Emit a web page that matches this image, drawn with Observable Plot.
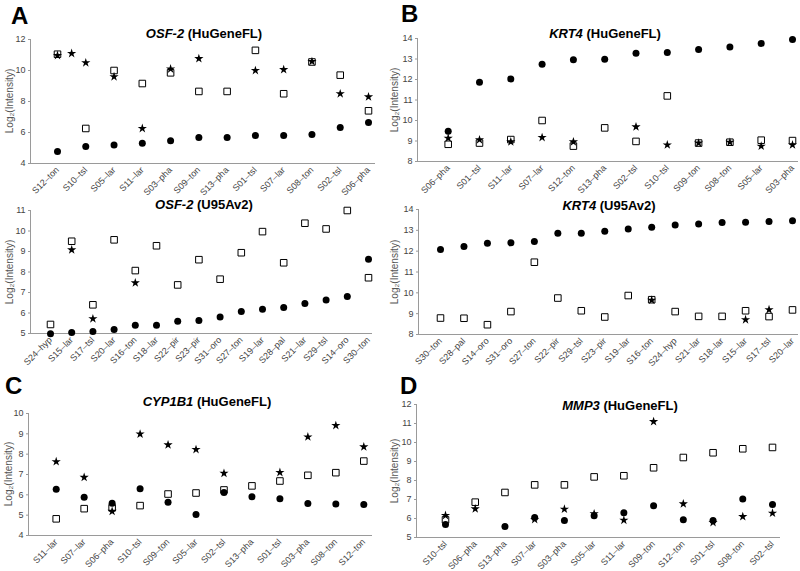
<!DOCTYPE html>
<html><head><meta charset="utf-8">
<script src="https://cdn.jsdelivr.net/npm/d3@7"></script>
<script src="https://cdn.jsdelivr.net/npm/@observablehq/plot@0.6"></script>
<style>
body{margin:0;background:#fff;font-family:"Liberation Sans",Arial,sans-serif;}
#root{position:relative;width:800px;height:571px;overflow:hidden;background:#fff;}
.letter{position:absolute;font-weight:bold;font-size:24px;line-height:1;color:#000;}
.title{position:absolute;font-weight:bold;font-size:13px;line-height:1;transform:translate(-50%,-50%);white-space:nowrap;color:#000;}
.ylab{position:absolute;font-size:10px;line-height:1;color:#555;white-space:nowrap;transform:translate(-50%,-50%) rotate(-90deg);}
.panel{position:absolute;}
</style></head><body><div id="root"></div>
<script>
// ---- Data ----
const osfHuCats = ["S12–ton","S10–tsl","S05–lar","S11–lar","S03–pha","S09–ton","S13–pha","S01–tsl","S07–lar","S08–ton","S02–tsl","S06–pha"];
const osfHuCircles = [4.77, 5.1, 5.2, 5.31, 5.46, 5.68, 5.68, 5.8, 5.8, 5.87, 6.32, 6.65];
const osfHuSquares = [11.05, 6.26, 10.0, 9.16, 9.85, 8.65, 8.65, 11.3, 8.5, 10.55, 9.7, 7.4];
const osfHuStarPos = [0, 0.5, 1, 2, 3, 4, 5, 7, 8, 9, 10, 11];
const osfHuStars = [10.97, 11.1, 10.5, 9.6, 6.26, 10.1, 10.77, 10.0, 10.06, 10.58, 8.5, 8.3];

const osfU95Cats = ["S24–hyp","S15–lar","S17–tsl","S20–lar","S16–ton","S18–lar","S22–pir","S23–pir","S31–oro","S27–ton","S19–lar","S28–pal","S21–lar","S29–tsl","S14–oro","S30–ton"];
const osfU95Circles = [4.99, 5.05, 5.1, 5.2, 5.4, 5.4, 5.6, 5.63, 5.8, 6.07, 6.18, 6.27, 6.46, 6.64, 6.8, 8.62];
const osfU95Squares = [5.44, 9.5, 6.4, 9.57, 8.07, 9.28, 7.37, 8.6, 7.65, 8.94, 9.97, 8.45, 10.38, 10.1, 11.0, 7.72];
const osfU95Stars = [null, 9.08, 5.72, null, 7.47, null, null, null, null, null, null, null, null, null, null, null];

const krtHuCats = ["S06–pha","S01–tsl","S11–lar","S07–lar","S12–ton","S13–pha","S02–tsl","S10–tsl","S09–ton","S08–ton","S05–lar","S03–pha"];
const krtHuCircles = [9.48, 11.87, 12.03, 12.75, 12.96, 12.99, 13.28, 13.32, 13.46, 13.58, 13.76, 13.95];
const krtHuSquares = [8.84, 8.9, 9.07, 10.0, 8.75, 9.64, 8.98, 11.2, 8.9, 8.94, 9.04, 9.02];
const krtHuStars = [9.14, 9.06, 8.96, 9.17, 8.96, null, 9.69, 8.81, 8.9, 8.94, 8.75, 8.81];

const krtU95Cats = ["S30–ton","S28–pal","S14–oro","S31–oro","S27–ton","S22–pir","S29–tsl","S23–pir","S19–lar","S16–ton","S24–hyp","S21–lar","S18–lar","S15–lar","S17–tsl","S20–lar"];
const krtU95Circles = [12.08, 12.22, 12.38, 12.4, 12.46, 12.86, 12.86, 12.96, 13.07, 13.15, 13.26, 13.31, 13.38, 13.39, 13.42, 13.46];
const krtU95Squares = [8.79, 8.78, 8.47, 9.1, 11.47, 9.75, 9.14, 8.84, 9.87, 9.67, 9.1, 8.87, 8.87, 9.14, 8.86, 9.18];
const krtU95Stars = [null, null, null, null, null, null, null, null, null, 9.65, null, null, null, 8.71, 9.19, null];

const cypHuCats = ["S11–lar","S07–lar","S06–pha","S10–tsl","S09–ton","S05–lar","S02–tsl","S13–pha","S01–tsl","S03–pha","S08–ton","S12–ton"];
const cypHuCircles = [6.27, 5.88, 5.58, 6.3, 5.63, 5.03, 6.12, 5.91, 5.81, 5.57, 5.55, 5.52];
const cypHuSquares = [4.82, 5.32, 5.36, 5.47, 6.04, 6.09, 6.24, 6.44, 6.68, 6.96, 7.09, 7.66];
const cypHuStars = [7.63, 6.86, 5.19, 8.99, 8.46, 8.23, 7.06, null, 7.1, 8.85, 9.41, 8.36];

const mmpHuCats = ["S10–tsl","S06–pha","S13–pha","S07–lar","S03–pha","S05–lar","S11–lar","S09–ton","S12–ton","S01–tsl","S08–ton","S02–tsl"];
const mmpHuCircles = [5.68, null, 5.58, 6.05, 5.89, 6.14, 6.3, 6.67, 5.93, 5.89, 7.02, 6.74];
const mmpHuSquares = [5.93, 6.86, 7.37, 7.77, 7.77, 8.19, 8.25, 8.67, 9.21, 9.46, 9.67, 9.74];
const mmpHuStars = [6.16, 6.51, null, 5.95, 6.49, 6.25, 5.91, 11.1, 6.77, 5.79, 6.1, 6.28];

const yLabel = "Log₂(Intensity)";

// ---- Rendering ----
const root = document.getElementById("root");

function addDiv(cls, html, x, y) {
  const d = document.createElement("div");
  d.className = cls;
  d.innerHTML = html;
  d.style.left = x + "px";
  d.style.top = y + "px";
  root.appendChild(d);
}

function drawPanel(c) {
  const n = c.cats.length;
  const step = (c.catPx[1] - c.catPx[0]) / (n - 1);
  const xDomain = [-(c.catPx[0] - c.fx[0]) / step, (n - 1) + (c.fx[1] - c.catPx[1]) / step];
  const pts = (vals, xs) => vals.map((v, i) => ({x: xs ? xs[i] : i, y: v})).filter(d => d.y != null);
  const plot = Plot.plot({
    width: c.width, height: c.height,
    marginLeft: c.fx[0] - c.left, marginRight: c.left + c.width - c.fx[1],
    marginTop: c.fy[0] - c.top, marginBottom: c.top + c.height - c.fy[1],
    style: {background: "transparent", fontFamily: "'Liberation Sans', Arial, sans-serif", fontSize: "9px", color: "#444", overflow: "visible"},
    x: {domain: xDomain},
    y: {domain: c.yDomain},
    marks: [
      Plot.ruleY([c.yDomain[0]], {stroke: "#9a9a9a"}),
      Plot.ruleX([xDomain[0]], {stroke: "#9a9a9a"}),
      Plot.axisY({ticks: c.yTicks, tickFormat: d3.format("d"), tickSize: 2, tickPadding: 3, label: null, stroke: "#9a9a9a"}),
      Plot.axisX({ticks: d3.range(n), tickFormat: i => c.cats[i], tickRotate: -45, tickSize: 0, tickPadding: 5, label: null}),
      Plot.dot(pts(c.squares), {x: "x", y: "y", symbol: "square", r: 3.7, fill: "white", stroke: "black", strokeWidth: 1}),
      Plot.dot(pts(c.circles), {x: "x", y: "y", symbol: "circle", r: 3.5, fill: "black", stroke: "none"}),
      Plot.dot(pts(c.stars, c.starPos), {x: "x", y: "y", symbol: "star", r: 2.9, fill: "black", stroke: "none"})
    ]
  });
  plot.classList.add("panel");
  plot.style.left = c.left + "px";
  plot.style.top = c.top + "px";
  root.appendChild(plot);
  addDiv("title", c.title, c.titleXY[0], c.titleXY[1]);
  addDiv("ylab", yLabel, c.ylabX, (c.fy[0] + c.fy[1]) / 2);
}

drawPanel({left: 0, top: 28, width: 385, height: 172, fx: [30, 375], fy: [39, 163], catPx: [57, 368],
  yDomain: [4, 12], yTicks: [4, 6, 8, 10, 12], cats: osfHuCats, circles: osfHuCircles, squares: osfHuSquares,
  stars: osfHuStars, starPos: osfHuStarPos, title: "<i>OSF-2</i> (HuGeneFL)", titleXY: [204, 33], ylabX: 10});

drawPanel({left: 0, top: 200, width: 385, height: 170, fx: [30, 372], fy: [210, 333], catPx: [50, 368],
  yDomain: [5, 11], yTicks: [5, 6, 7, 8, 9, 10, 11], cats: osfU95Cats, circles: osfU95Circles, squares: osfU95Squares,
  stars: osfU95Stars, title: "<i>OSF-2</i> (U95Av2)", titleXY: [204, 204], ylabX: 10});

drawPanel({left: 0, top: 400, width: 385, height: 171, fx: [28, 372], fy: [413, 535], catPx: [55.7, 363.3],
  yDomain: [4, 10], yTicks: [4, 5, 6, 7, 8, 9, 10], cats: cypHuCats, circles: cypHuCircles, squares: cypHuSquares,
  stars: cypHuStars, title: "<i>CYP1B1</i> (HuGeneFL)", titleXY: [207, 401], ylabX: 9});

drawPanel({left: 385, top: 28, width: 415, height: 172, fx: [417, 798], fy: [38, 161], catPx: [447.7, 792],
  yDomain: [8, 14], yTicks: [8, 9, 10, 11, 12, 13, 14], cats: krtHuCats, circles: krtHuCircles, squares: krtHuSquares,
  stars: krtHuStars, title: "<i>KRT4</i> (HuGeneFL)", titleXY: [605, 33], ylabX: 395});

drawPanel({left: 385, top: 200, width: 415, height: 170, fx: [418, 798], fy: [209, 334], catPx: [440, 792],
  yDomain: [8, 14], yTicks: [8, 9, 10, 11, 12, 13, 14], cats: krtU95Cats, circles: krtU95Circles, squares: krtU95Squares,
  stars: krtU95Stars, title: "<i>KRT4</i> (U95Av2)", titleXY: [609, 205], ylabX: 395});

drawPanel({left: 385, top: 400, width: 415, height: 171, fx: [416, 780], fy: [404, 537], catPx: [445, 772],
  yDomain: [5, 12], yTicks: [5, 6, 7, 8, 9, 10, 11, 12], cats: mmpHuCats, circles: mmpHuCircles, squares: mmpHuSquares,
  stars: mmpHuStars, title: "<i>MMP3</i> (HuGeneFL)", titleXY: [620, 405], ylabX: 395});

addDiv("letter", "A", 11, 4);
addDiv("letter", "B", 401, 2);
addDiv("letter", "C", 5, 374);
addDiv("letter", "D", 400, 374);
</script>
</body></html>
